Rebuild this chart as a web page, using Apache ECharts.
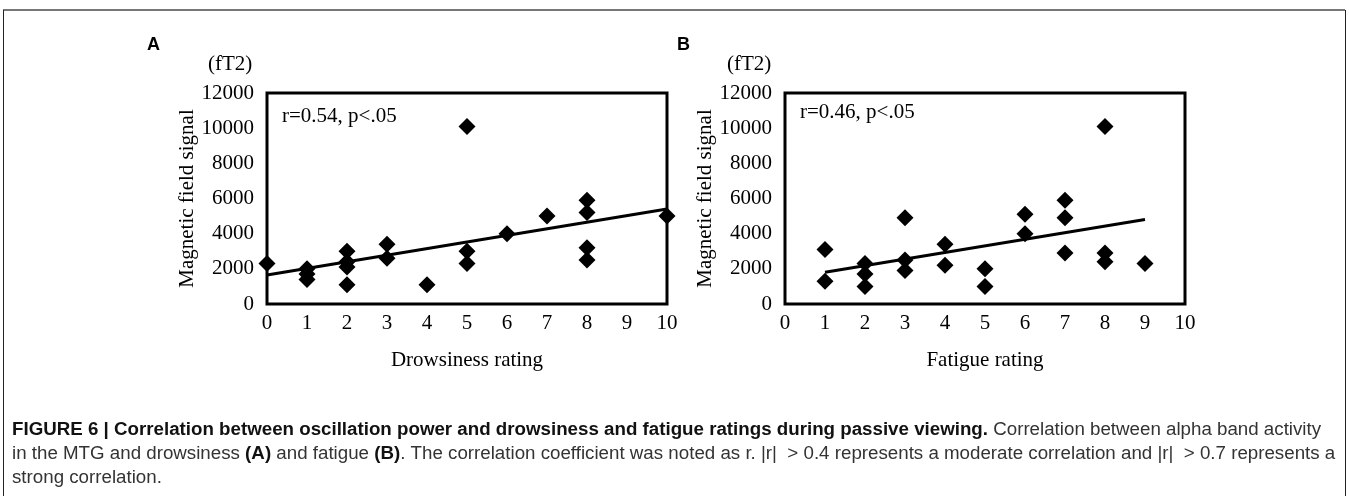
<!DOCTYPE html>
<html>
<head>
<meta charset="utf-8">
<script src="https://cdn.jsdelivr.net/npm/echarts@6/dist/echarts.min.js"></script>
<style>
  html, body { margin: 0; padding: 0; background: #fff; }
  #chart { width: 1349px; height: 496px; }
</style>
</head>
<body>
<div id="chart"></div>
<script>
// panel A: drowsiness rating vs magnetic field signal (fT2)
const drowsyRating = [0, 1, 1, 1, 2, 2, 2, 2, 3, 3, 4, 5, 5, 5, 6, 7, 8, 8, 8, 8, 10];
const drowsySignal = [2300, 2000, 1700, 1400, 3000, 2400, 2100, 1100, 3400, 2600, 1100, 10100, 3000, 2300, 4000, 5000, 5900, 5200, 3200, 2500, 5000];
const drowsyTrend = [[0, 1650], [10, 5400]];

// panel B: fatigue rating vs magnetic field signal (fT2)
const fatigueRating = [1, 1, 2, 2, 2, 3, 3, 3, 4, 4, 5, 5, 6, 6, 7, 7, 7, 8, 8, 8, 9];
const fatigueSignal = [3100, 1300, 2300, 1700, 1000, 4900, 2500, 1900, 3400, 2200, 2000, 1000, 5100, 4000, 5900, 4900, 2900, 10100, 2900, 2400, 2300];
const fatigueTrend = [[1, 1800], [9, 4800]];

const xTicks = [0, 1, 2, 3, 4, 5, 6, 7, 8, 9, 10];
const yTicks = [0, 2000, 4000, 6000, 8000, 10000, 12000];
const panelTitles = ['A', 'B'];
const xNames = ['Drowsiness rating', 'Fatigue rating'];
const yName = 'Magnetic field signal';
const unitLabel = '(fT2)';
const statLabels = ['r=0.54, p<.05', 'r=0.46, p<.05'];

const serif = '"Liberation Serif", "Times New Roman", serif';
const sans = '"Liberation Sans", Arial, sans-serif';

const chart = echarts.init(document.getElementById('chart'), null, { renderer: 'canvas' });

const grids = [
  { left: 267, right: 1349 - 667, top: 93, bottom: 496 - 304 },
  { left: 785, right: 1349 - 1185, top: 93, bottom: 496 - 304 }
];

const makeX = (i) => ({
  type: 'value', gridIndex: i, min: xTicks[0], max: xTicks[xTicks.length - 1], interval: 1,
  name: xNames[i], nameLocation: 'middle', nameGap: 46,
  nameTextStyle: { fontFamily: serif, fontSize: 21, color: '#000' },
  axisLine: { show: false }, axisTick: { show: false }, splitLine: { show: false },
  axisLabel: { fontFamily: serif, fontSize: 21, color: '#000', margin: 9 }
});

const makeY = (i) => ({
  type: 'value', gridIndex: i, min: yTicks[0], max: yTicks[yTicks.length - 1], interval: 2000,
  name: yName, nameLocation: 'middle', nameGap: 66,
  nameTextStyle: { fontFamily: serif, fontSize: 21, color: '#000' },
  axisLine: { show: false }, axisTick: { show: false }, splitLine: { show: false },
  axisLabel: { fontFamily: serif, fontSize: 21, color: '#000', margin: 13, formatter: v => String(v) }
});

const scatter = (i, xs, ys) => ({
  type: 'scatter', xAxisIndex: i, yAxisIndex: i, clip: false,
  symbol: 'diamond', symbolSize: [17, 17],
  itemStyle: { color: '#000', opacity: 1 },
  data: xs.map((x, k) => [x, ys[k]])
});

const trend = (i, pts) => ({
  type: 'line', xAxisIndex: i, yAxisIndex: i, showSymbol: false, symbol: 'none',
  lineStyle: { color: '#000', width: 3 }, data: pts, z: 1
});

const caption1 = '{b|FIGURE 6 | Correlation between oscillation power and drowsiness and fatigue ratings during passive viewing.} Correlation between alpha band activity';
const caption2 = 'in the MTG and drowsiness {b|(A)} and fatigue {b|(B)}. The correlation coefficient was noted as r. |r|  > 0.4 represents a moderate correlation and |r|  > 0.7 represents a';
const caption3 = 'strong correlation.';

const capText = (y, text) => ({
  type: 'text', x: 12, y: y, scaleX: 1.07,
  style: {
    text: text, fontFamily: sans, fontSize: 17.5, fill: '#333',
    rich: { b: { fontFamily: sans, fontSize: 17.5, fontWeight: 'bold', fill: '#111' } }
  }
});

const options = {
  backgroundColor: '#fff',
  animation: false,
  grid: grids.map(g => Object.assign({ show: true, borderColor: '#000', borderWidth: 3 }, g)),
  xAxis: [makeX(0), makeX(1)],
  yAxis: [makeY(0), makeY(1)],
  series: [
    trend(0, drowsyTrend),
    scatter(0, drowsyRating, drowsySignal),
    trend(1, fatigueTrend),
    scatter(1, fatigueRating, fatigueSignal)
  ],
  graphic: [
    // outer figure frame
    { type: 'line', shape: { x1: 3, y1: 10, x2: 1345, y2: 10 }, style: { stroke: '#777', lineWidth: 2 } },
    { type: 'line', shape: { x1: 3.5, y1: 10, x2: 3.5, y2: 496 }, style: { stroke: '#222', lineWidth: 1 } },
    { type: 'line', shape: { x1: 1345.5, y1: 10, x2: 1345.5, y2: 496 }, style: { stroke: '#222', lineWidth: 1 } },
    // panel letters
    { type: 'text', left: 147, top: 36, style: { text: panelTitles[0], fontFamily: sans, fontWeight: 'bold', fontSize: 18, fill: '#000' } },
    { type: 'text', left: 677, top: 36, style: { text: panelTitles[1], fontFamily: sans, fontWeight: 'bold', fontSize: 18, fill: '#000' } },
    // units
    { type: 'text', left: 208, top: 54, style: { text: unitLabel, fontFamily: serif, fontSize: 21, fill: '#000' } },
    { type: 'text', left: 727, top: 54, style: { text: unitLabel, fontFamily: serif, fontSize: 21, fill: '#000' } },
    // stats
    { type: 'text', left: 282, top: 106, style: { text: statLabels[0], fontFamily: serif, fontSize: 21, fill: '#000' } },
    { type: 'text', left: 800, top: 102, style: { text: statLabels[1], fontFamily: serif, fontSize: 21, fill: '#000' } },
    // caption
    capText(421, caption1),
    capText(445, caption2),
    capText(469, caption3)
  ]
};

chart.setOption(options);
window.addEventListener('resize', () => chart.resize());
</script>
</body>
</html>
